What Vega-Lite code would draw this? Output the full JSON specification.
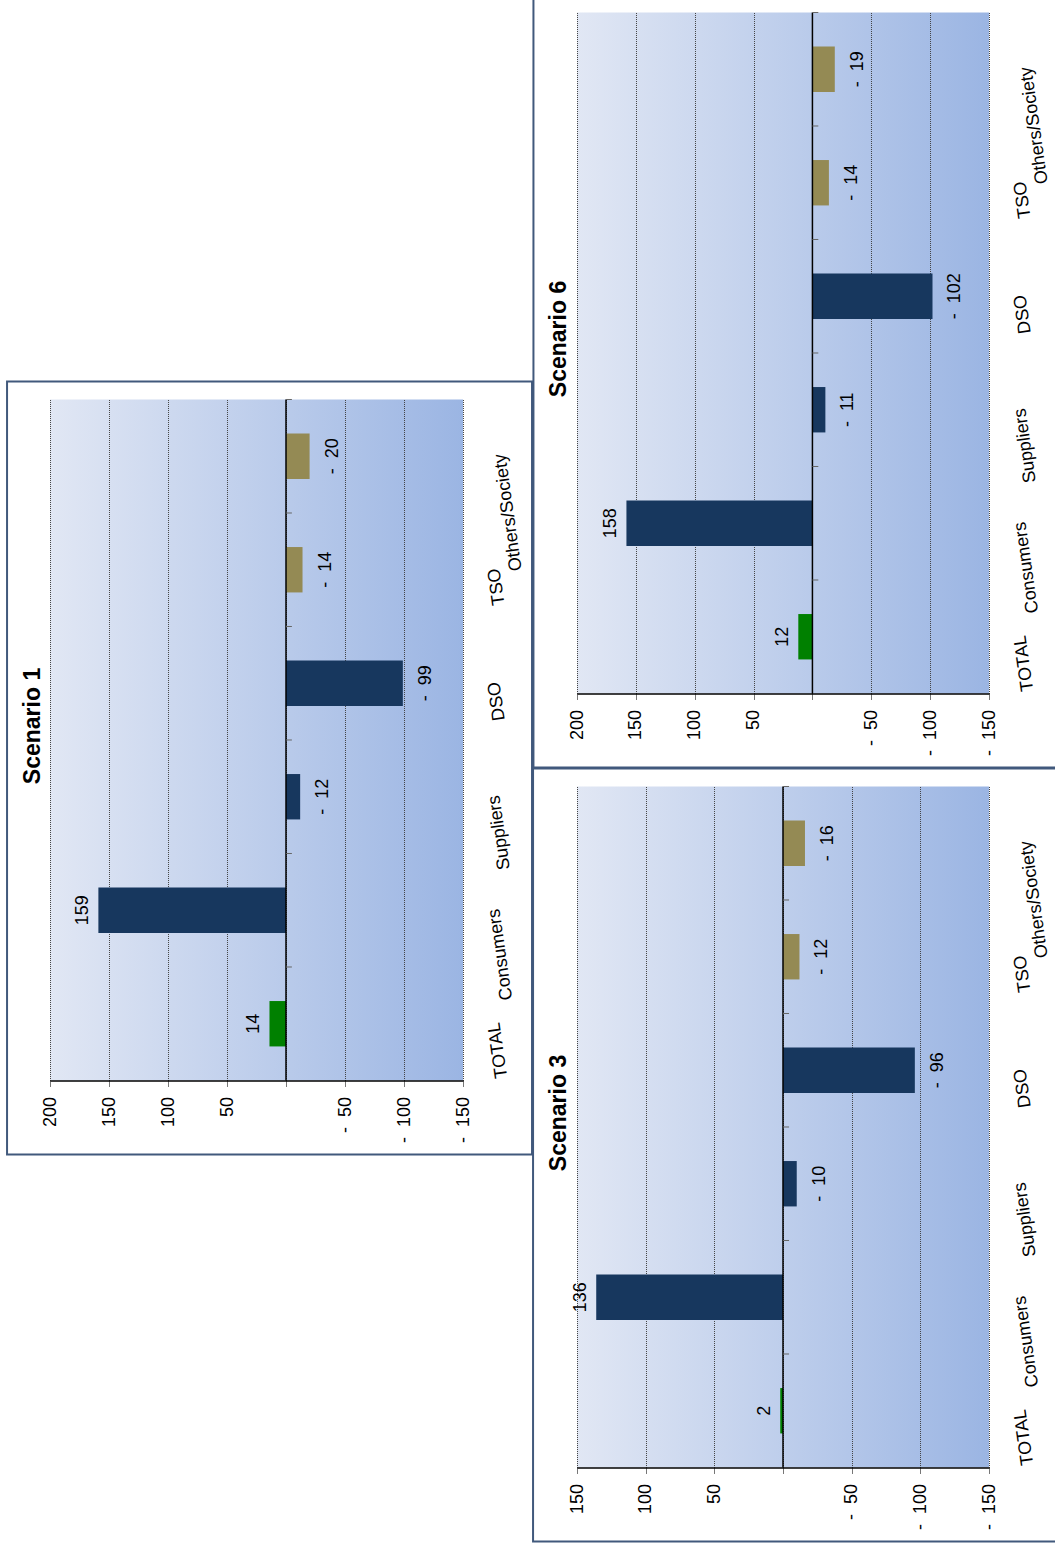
{
  "$schema": "https://vega.github.io/schema/vega-lite/v6.json",
  "padding": {"left": 6, "top": -7, "right": -3, "bottom": 0},
  "datasets": {
    "s1": [
      {"category": "TOTAL", "value": 14, "label": "14"},
      {"category": "Consumers", "value": 159, "label": "159"},
      {"category": "Suppliers", "value": -12, "label": "-\u00a0\u00a012"},
      {"category": "DSO", "value": -99, "label": "-\u00a0\u00a099"},
      {"category": "TSO", "value": -14, "label": "-\u00a0\u00a014"},
      {"category": "Others/Society", "value": -20, "label": "-\u00a0\u00a020"}
    ],
    "s3": [
      {"category": "TOTAL", "value": 2, "label": "2"},
      {"category": "Consumers", "value": 136, "label": "136"},
      {"category": "Suppliers", "value": -10, "label": "-\u00a0\u00a010"},
      {"category": "DSO", "value": -96, "label": "-\u00a0\u00a096"},
      {"category": "TSO", "value": -12, "label": "-\u00a0\u00a012"},
      {"category": "Others/Society", "value": -16, "label": "-\u00a0\u00a016"}
    ],
    "s6": [
      {"category": "TOTAL", "value": 12, "label": "12"},
      {"category": "Consumers", "value": 158, "label": "158"},
      {"category": "Suppliers", "value": -11, "label": "-\u00a0\u00a011"},
      {"category": "DSO", "value": -102, "label": "-\u00a0\u00a0102"},
      {"category": "TSO", "value": -14, "label": "-\u00a0\u00a014"},
      {"category": "Others/Society", "value": -19, "label": "-\u00a0\u00a019"}
    ]
  },
  "spacing": -2,
  "center": true,
  "hconcat": [
    {
      "width": 413, "height": 681,
      "data": {"name": "s1"},
      "title": {"text": "Scenario 1", "orient": "left", "anchor": "middle", "frame": "group", "offset": -39, "dx": 14},
      "resolve": {"scale": {"y": "independent"}, "axis": {"y": "independent"}},
      "layer": [
        {
          "data": {"values": [{}]},
          "mark": {"type": "rect", "filled": false, "color": "#41597c", "strokeWidth": 2},
          "encoding": {
            "x": {"datum": 236.4, "type": "quantitative", "title": null, "scale": {"domain": [-150, 200], "reverse": true, "nice": false, "zero": false},
              "axis": {"values": [200, 150, 100, 50, 0, -50, -100, -150], "title": null, "grid": true, "gridDash": [1, 1], "gridColor": "#444444", "gridWidth": 1, "domainColor": "black", "domainWidth": 1.5, "tickColor": "#777777", "tickSize": 6, "labelAngle": 270, "labelFontSize": 18, "labelPadding": 10, "labelExpr": "datum.value == 0 ? '' : (datum.value < 0 ? '-\u00a0\u00a0' + format(-datum.value, 'd') : format(datum.value, 'd'))"}},
            "x2": {"datum": -208.5},
            "y": {"datum": -0.1087, "type": "quantitative", "scale": {"domain": [0, 1], "nice": false, "zero": false}, "axis": null},
            "y2": {"datum": 1.0264}
          }
        },
        {
          "mark": {"type": "bar", "height": {"band": 0.4}},
          "encoding": {
            "x": {"field": "value", "type": "quantitative", "title": null},
            "y": {"field": "category", "type": "nominal",
              "scale": {"type": "band", "domain": ["Others/Society", "TSO", "DSO", "Suppliers", "Consumers", "TOTAL"], "paddingInner": 0, "paddingOuter": 0},
              "axis": {"orient": "right", "title": null, "domain": false, "ticks": false, "tickSize": 0, "labelAngle": 262, "labelAlign": "right", "labelBaseline": "top", "labelPadding": 22, "labelFontSize": 18, "labelOverlap": false, "labelLineHeight": 6, "labelExpr": "datum.value == 'Others/Society' ? ['', datum.value] : datum.value"}},
            "color": {"field": "category", "type": "nominal", "legend": null,
              "scale": {"domain": ["TOTAL", "Consumers", "Suppliers", "DSO", "TSO", "Others/Society"], "range": ["#008000", "#17375e", "#17375e", "#17375e", "#948a54", "#948a54"]}}
          }
        },
        {
          "data": {"values": [{}]},
          "mark": {"type": "rule", "color": "black", "strokeWidth": 1.5},
          "encoding": {"x": {"datum": 0, "type": "quantitative", "title": null}}
        },
        {
          "mark": {"type": "rule", "color": "#666666", "strokeWidth": 1},
          "encoding": {
            "y": {"field": "category", "type": "nominal", "bandPosition": 0, "axis": null,
              "scale": {"type": "band", "domain": ["Others/Society", "TSO", "DSO", "Suppliers", "Consumers", "TOTAL"], "paddingInner": 0, "paddingOuter": 0}},
            "x": {"datum": 0, "type": "quantitative", "title": null},
            "x2": {"datum": -5}
          }
        },
        {
          "transform": [{"filter": "datum.value >= 0"}],
          "mark": {"type": "text", "angle": 270, "align": "center", "baseline": "bottom", "dy": -6, "fontSize": 18, "color": "black"},
          "encoding": {
            "x": {"field": "value", "type": "quantitative", "title": null},
            "y": {"field": "category", "type": "nominal", "axis": null,
              "scale": {"type": "band", "domain": ["Others/Society", "TSO", "DSO", "Suppliers", "Consumers", "TOTAL"], "paddingInner": 0, "paddingOuter": 0}},
            "text": {"field": "label"}
          }
        },
        {
          "transform": [{"filter": "datum.value < 0"}],
          "mark": {"type": "text", "angle": 270, "align": "center", "baseline": "top", "dy": 14, "fontSize": 18, "color": "black"},
          "encoding": {
            "x": {"field": "value", "type": "quantitative", "title": null},
            "y": {"field": "category", "type": "nominal", "axis": null,
              "scale": {"type": "band", "domain": ["Others/Society", "TSO", "DSO", "Suppliers", "Consumers", "TOTAL"], "paddingInner": 0, "paddingOuter": 0}},
            "text": {"field": "label"}
          }
        }
      ]
    },
    {
      "spacing": -2,
      "vconcat": [
        {
          "width": 412, "height": 681,
          "data": {"name": "s6"},
          "title": {"text": "Scenario 6", "orient": "left", "anchor": "middle", "frame": "group", "offset": -39, "dx": 14},
          "resolve": {"scale": {"y": "independent"}, "axis": {"y": "independent"}},
          "layer": [
            {
              "data": {"values": [{}]},
              "mark": {"type": "rect", "filled": false, "color": "#41597c", "strokeWidth": 2},
              "encoding": {
                "x": {"datum": 237, "type": "quantitative", "title": null, "scale": {"domain": [-150, 200], "reverse": true, "nice": false, "zero": false},
                  "axis": {"values": [200, 150, 100, 50, 0, -50, -100, -150], "title": null, "grid": true, "gridDash": [1, 1], "gridColor": "#444444", "gridWidth": 1, "domainColor": "black", "domainWidth": 1.5, "tickColor": "#777777", "tickSize": 6, "labelAngle": 270, "labelFontSize": 18, "labelPadding": 10, "labelExpr": "datum.value == 0 ? '' : (datum.value < 0 ? '-\u00a0\u00a0' + format(-datum.value, 'd') : format(datum.value, 'd'))"}},
                "x2": {"datum": -208},
                "y": {"datum": -0.1087, "type": "quantitative", "scale": {"domain": [0, 1], "nice": false, "zero": false}, "axis": null},
                "y2": {"datum": 1.0264}
              }
            },
            {
              "mark": {"type": "bar", "height": {"band": 0.4}},
              "encoding": {
                "x": {"field": "value", "type": "quantitative", "title": null},
                "y": {"field": "category", "type": "nominal",
                  "scale": {"type": "band", "domain": ["Others/Society", "TSO", "DSO", "Suppliers", "Consumers", "TOTAL"], "paddingInner": 0, "paddingOuter": 0},
                  "axis": {"orient": "right", "title": null, "domain": false, "ticks": false, "tickSize": 0, "labelAngle": 262, "labelAlign": "right", "labelBaseline": "top", "labelPadding": 22, "labelFontSize": 18, "labelOverlap": false, "labelLineHeight": 6, "labelExpr": "datum.value == 'Others/Society' ? ['', datum.value] : datum.value"}},
                "color": {"field": "category", "type": "nominal", "legend": null,
                  "scale": {"domain": ["TOTAL", "Consumers", "Suppliers", "DSO", "TSO", "Others/Society"], "range": ["#008000", "#17375e", "#17375e", "#17375e", "#948a54", "#948a54"]}}
              }
            },
            {
              "data": {"values": [{}]},
              "mark": {"type": "rule", "color": "black", "strokeWidth": 1.5},
              "encoding": {"x": {"datum": 0, "type": "quantitative", "title": null}}
            },
            {
              "mark": {"type": "rule", "color": "#666666", "strokeWidth": 1},
              "encoding": {
                "y": {"field": "category", "type": "nominal", "bandPosition": 0, "axis": null,
                  "scale": {"type": "band", "domain": ["Others/Society", "TSO", "DSO", "Suppliers", "Consumers", "TOTAL"], "paddingInner": 0, "paddingOuter": 0}},
                "x": {"datum": 0, "type": "quantitative", "title": null},
                "x2": {"datum": -5}
              }
            },
            {
              "transform": [{"filter": "datum.value >= 0"}],
              "mark": {"type": "text", "angle": 270, "align": "center", "baseline": "bottom", "dy": -6, "fontSize": 18, "color": "black"},
              "encoding": {
                "x": {"field": "value", "type": "quantitative", "title": null},
                "y": {"field": "category", "type": "nominal", "axis": null,
                  "scale": {"type": "band", "domain": ["Others/Society", "TSO", "DSO", "Suppliers", "Consumers", "TOTAL"], "paddingInner": 0, "paddingOuter": 0}},
                "text": {"field": "label"}
              }
            },
            {
              "transform": [{"filter": "datum.value < 0"}],
              "mark": {"type": "text", "angle": 270, "align": "center", "baseline": "top", "dy": 14, "fontSize": 18, "color": "black"},
              "encoding": {
                "x": {"field": "value", "type": "quantitative", "title": null},
                "y": {"field": "category", "type": "nominal", "axis": null,
                  "scale": {"type": "band", "domain": ["Others/Society", "TSO", "DSO", "Suppliers", "Consumers", "TOTAL"], "paddingInner": 0, "paddingOuter": 0}},
                "text": {"field": "label"}
              }
            }
          ]
        },
        {
          "width": 412, "height": 681,
          "data": {"name": "s3"},
          "title": {"text": "Scenario 3", "orient": "left", "anchor": "middle", "frame": "group", "offset": -39, "dx": 14},
          "resolve": {"scale": {"y": "independent"}, "axis": {"y": "independent"}},
          "layer": [
            {
              "data": {"values": [{}]},
              "mark": {"type": "rect", "filled": false, "color": "#41597c", "strokeWidth": 2},
              "encoding": {
                "x": {"datum": 182, "type": "quantitative", "title": null, "scale": {"domain": [-150, 150], "reverse": true, "nice": false, "zero": false},
                  "axis": {"values": [150, 100, 50, 0, -50, -100, -150], "title": null, "grid": true, "gridDash": [1, 1], "gridColor": "#444444", "gridWidth": 1, "domainColor": "black", "domainWidth": 1.5, "tickColor": "#777777", "tickSize": 6, "labelAngle": 270, "labelFontSize": 18, "labelPadding": 10, "labelExpr": "datum.value == 0 ? '' : (datum.value < 0 ? '-\u00a0\u00a0' + format(-datum.value, 'd') : format(datum.value, 'd'))"}},
                "x2": {"datum": -199.5},
                "y": {"datum": -0.1087, "type": "quantitative", "scale": {"domain": [0, 1], "nice": false, "zero": false}, "axis": null},
                "y2": {"datum": 1.0264}
              }
            },
            {
              "mark": {"type": "bar", "height": {"band": 0.4}},
              "encoding": {
                "x": {"field": "value", "type": "quantitative", "title": null},
                "y": {"field": "category", "type": "nominal",
                  "scale": {"type": "band", "domain": ["Others/Society", "TSO", "DSO", "Suppliers", "Consumers", "TOTAL"], "paddingInner": 0, "paddingOuter": 0},
                  "axis": {"orient": "right", "title": null, "domain": false, "ticks": false, "tickSize": 0, "labelAngle": 262, "labelAlign": "right", "labelBaseline": "top", "labelPadding": 22, "labelFontSize": 18, "labelOverlap": false, "labelLineHeight": 6, "labelExpr": "datum.value == 'Others/Society' ? ['', datum.value] : datum.value"}},
                "color": {"field": "category", "type": "nominal", "legend": null,
                  "scale": {"domain": ["TOTAL", "Consumers", "Suppliers", "DSO", "TSO", "Others/Society"], "range": ["#008000", "#17375e", "#17375e", "#17375e", "#948a54", "#948a54"]}}
              }
            },
            {
              "data": {"values": [{}]},
              "mark": {"type": "rule", "color": "black", "strokeWidth": 1.5},
              "encoding": {"x": {"datum": 0, "type": "quantitative", "title": null}}
            },
            {
              "mark": {"type": "rule", "color": "#666666", "strokeWidth": 1},
              "encoding": {
                "y": {"field": "category", "type": "nominal", "bandPosition": 0, "axis": null,
                  "scale": {"type": "band", "domain": ["Others/Society", "TSO", "DSO", "Suppliers", "Consumers", "TOTAL"], "paddingInner": 0, "paddingOuter": 0}},
                "x": {"datum": 0, "type": "quantitative", "title": null},
                "x2": {"datum": -4.4}
              }
            },
            {
              "transform": [{"filter": "datum.value >= 0"}],
              "mark": {"type": "text", "angle": 270, "align": "center", "baseline": "bottom", "dy": -6, "fontSize": 18, "color": "black"},
              "encoding": {
                "x": {"field": "value", "type": "quantitative", "title": null},
                "y": {"field": "category", "type": "nominal", "axis": null,
                  "scale": {"type": "band", "domain": ["Others/Society", "TSO", "DSO", "Suppliers", "Consumers", "TOTAL"], "paddingInner": 0, "paddingOuter": 0}},
                "text": {"field": "label"}
              }
            },
            {
              "transform": [{"filter": "datum.value < 0"}],
              "mark": {"type": "text", "angle": 270, "align": "center", "baseline": "top", "dy": 14, "fontSize": 18, "color": "black"},
              "encoding": {
                "x": {"field": "value", "type": "quantitative", "title": null},
                "y": {"field": "category", "type": "nominal", "axis": null,
                  "scale": {"type": "band", "domain": ["Others/Society", "TSO", "DSO", "Suppliers", "Consumers", "TOTAL"], "paddingInner": 0, "paddingOuter": 0}},
                "text": {"field": "label"}
              }
            }
          ]
        }
      ]
    }
  ],
  "config": {
    "font": "Liberation Sans",
    "view": {
      "stroke": null,
      "fill": {"gradient": "linear", "x1": 0, "y1": 0, "x2": 1, "y2": 0, "stops": [{"offset": 0, "color": "#e1e7f4"}, {"offset": 1, "color": "#9bb5e3"}]}
    },
    "axis": {"labelFont": "Liberation Sans", "labelColor": "black"},
    "text": {"font": "Liberation Sans"},
    "title": {"font": "Liberation Sans", "fontSize": 23, "fontWeight": "bold", "color": "black"}
  }
}
